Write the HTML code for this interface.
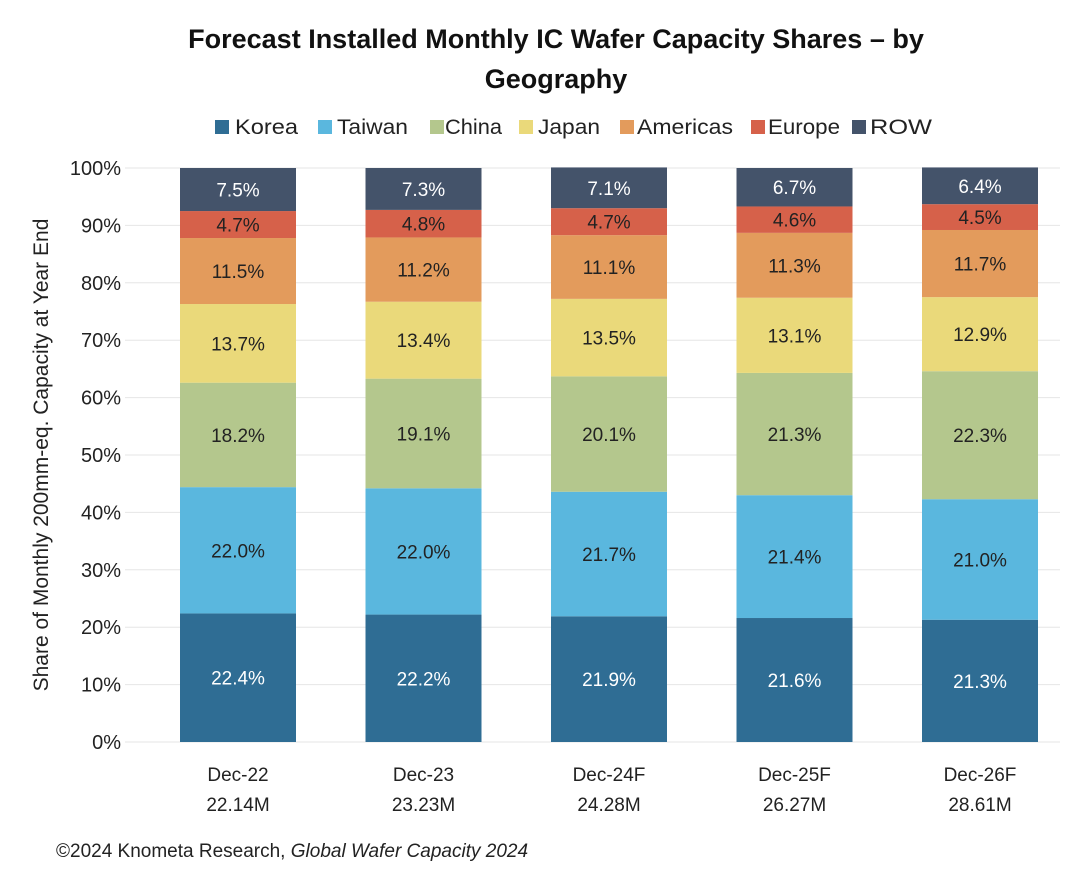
<!DOCTYPE html>
<html><head><meta charset="utf-8"><style>
body{margin:0;background:#fff;font-family:"Liberation Sans",sans-serif;}
</style></head><body>
<svg id="chart" width="1080" height="868" xmlns="http://www.w3.org/2000/svg">
<text x="556" y="48" text-anchor="middle" font-size="27" font-weight="bold" fill="#111">Forecast Installed Monthly IC Wafer Capacity Shares – by</text>
<text x="556" y="88" text-anchor="middle" font-size="27" font-weight="bold" fill="#111">Geography</text>
<g id="legend"></g>
<g id="grid"></g><g id="bars"></g><g id="axis"></g>
<text transform="translate(48,455) rotate(-90)" text-anchor="middle" font-size="21" fill="#222">Share of Monthly 200mm-eq. Capacity at Year End</text>
<text x="56" y="857" font-size="19" fill="#222">©2024 Knometa Research, <tspan font-style="italic">Global Wafer Capacity 2024</tspan></text>
</svg>
<script>
const categories=["Dec-22","Dec-23","Dec-24F","Dec-25F","Dec-26F"];
const totals=["22.14M","23.23M","24.28M","26.27M","28.61M"];
const seriesNames=["Korea","Taiwan","China","Japan","Americas","Europe","ROW"];
const korea=[22.4,22.2,21.9,21.6,21.3];
const taiwan=[22.0,22.0,21.7,21.4,21.0];
const china=[18.2,19.1,20.1,21.3,22.3];
const japan=[13.7,13.4,13.5,13.1,12.9];
const americas=[11.5,11.2,11.1,11.3,11.7];
const europe=[4.7,4.8,4.7,4.6,4.5];
const row=[7.5,7.3,7.1,6.7,6.4];
const yTicks=[0,10,20,30,40,50,60,70,80,90,100];
const series=[korea,taiwan,china,japan,americas,europe,row];
const colors=["#2f6d94","#5ab7de","#b4c78d","#ead97a","#e39b5c","#d6614a","#44536a"];
const textColors=["#fff","#222","#222","#222","#222","#222","#fff"];
const NS="http://www.w3.org/2000/svg";
const y0=742,y1=168,x0=180,step=185.5,bw=116;
const y=v=>y0-(y0-y1)*v/100;
const x=i=>x0+i*step;
function el(t,a,p){const e=document.createElementNS(NS,t);for(const k in a)e.setAttribute(k,a[k]);p.appendChild(e);return e;}
const grid=document.getElementById('grid'),bars=document.getElementById('bars'),axis=document.getElementById('axis'),legend=document.getElementById('legend');
yTicks.forEach(t=>{
 const l=el('line',{x1:125,x2:1060,y1:y(t),y2:y(t),stroke:'#e6e6e6','stroke-width':1},grid);
 
 
 const tx=el('text',{x:121,y:y(t)+7,'text-anchor':'end','font-size':20,fill:'#222'},axis);
 tx.textContent=t+'%';
 
 
});
categories.forEach((c,i)=>{
 let cum=0;
 series.forEach((s,j)=>{
  const v=s[i];const top=y(cum+v),bot=y(cum);
  const r=el('rect',{x:x(i),y:top,width:bw,height:bot-top,fill:colors[j]},bars);
  
  
  const t=el('text',{x:x(i)+bw/2,y:(top+bot)/2+7,'text-anchor':'middle','font-size':19,fill:textColors[j]},bars);
  t.textContent=v.toFixed(1)+'%';
  
  
  cum+=v;
 });
 const a=el('text',{x:x(i)+bw/2,y:781,'text-anchor':'middle','font-size':19,fill:'#222'},axis);
 a.textContent=c;
 
 
 const b=el('text',{x:x(i)+bw/2,y:811,'text-anchor':'middle','font-size':19,fill:'#222'},axis);
 b.textContent=totals[i];
 
 
});
const lx=[215,318,430,519,620,751,852];
const tx0=[235,337,445,538,637,768,870];
const lw=[63,71,57,62,96,72,62];
seriesNames.forEach((n,j)=>{
 const r=el('rect',{x:lx[j],y:120,width:14,height:14,fill:colors[j]},legend);
 
 
 const t=el('text',{x:tx0[j],y:134,'font-size':21,fill:'#222',textLength:lw[j],lengthAdjust:'spacingAndGlyphs'},legend);
 t.textContent=n;
 
 
});
</script>
</body></html>
